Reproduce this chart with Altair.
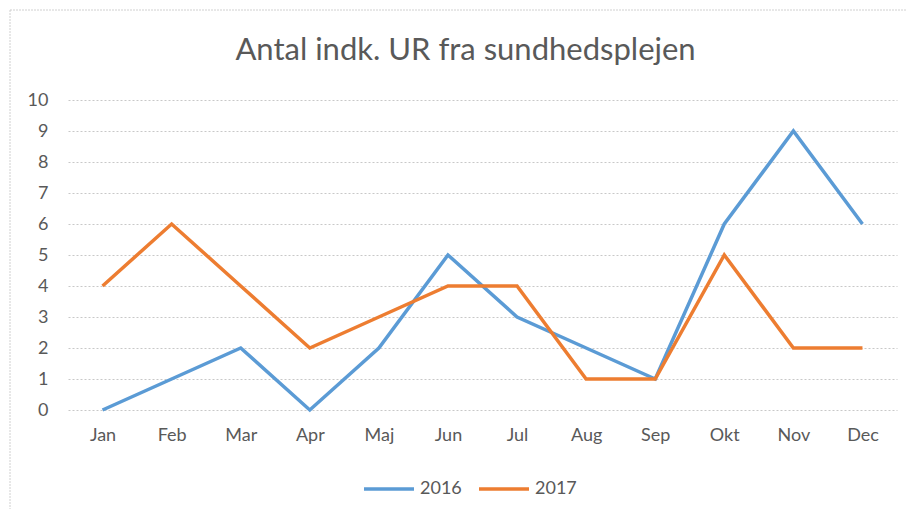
import altair as alt
import pandas as pd

months = ["Jan", "Feb", "Mar", "Apr", "Maj", "Jun", "Jul", "Aug", "Sep", "Okt", "Nov", "Dec"]
values_2016 = [0, 1, 2, 0, 2, 5, 3, 2, 1, 6, 9, 6]
values_2017 = [4, 6, 4, 2, 3, 4, 4, 1, 1, 5, 2, 2]
series = ["2016", "2017"]
colors = ["#5B9BD5", "#ED7D31"]

rows = []
for m, v in zip(months, values_2016):
    rows.append({"Måned": m, "Antal": v, "År": "2016"})
for m, v in zip(months, values_2017):
    rows.append({"Måned": m, "Antal": v, "År": "2017"})
df = pd.DataFrame(rows)

font = "Lato"

lines = alt.Chart(df).mark_line(strokeWidth=3.5, strokeJoin="miter", clip=False).encode(
    x=alt.X("Måned:N", sort=months, scale=alt.Scale(padding=0.5),
            axis=alt.Axis(title=None, labelAngle=0, labelFontSize=18, labelColor="#595959",
                          labelFont=font, labelPadding=16, ticks=False, domain=False, grid=False)),
    y=alt.Y("Antal:Q", scale=alt.Scale(domain=[0, 10], nice=False),
            axis=alt.Axis(title=None, values=list(range(0, 11)), labelFontSize=18, labelColor="#595959",
                          labelFont=font, labelPadding=20, ticks=False, domain=False,
                          grid=True, gridColor="#C8C8C8", gridDash=[2, 2], gridWidth=1)),
    color=alt.Color("År:N", scale=alt.Scale(domain=series, range=colors),
                    legend=alt.Legend(title=None, orient="none", direction="horizontal",
                                      legendX=294, legendY=362, symbolType="stroke",
                                      symbolStrokeWidth=3.5, symbolSize=2500, labelFontSize=18,
                                      labelColor="#595959", labelFont=font, columnPadding=10,
                                      labelOffset=4)),
)

frame = alt.Chart(pd.DataFrame({"a": [0]})).mark_rect(
    fill=None, stroke="#D0D0D0", strokeWidth=1, strokeDash=[2, 1], clip=False
).encode(x=alt.value(-58), x2=alt.value(900), y=alt.value(-90), y2=alt.value(450))

chart = alt.layer(frame, lines).properties(
    width=829, height=310,
    title=alt.TitleParams("Antal indk. UR fra sundhedsplejen", fontSize=31, font=font,
                          fontWeight="normal", color="#595959", anchor="middle", offset=-57,
                          dx=-17, frame="group"),
    autosize=alt.AutoSizeParams(type="none"),
    padding={"left": 60, "top": 92, "right": 9, "bottom": 99},
).configure_view(stroke=None)

chart.save("out.html", embed_options={"renderer": "svg", "actions": False})
